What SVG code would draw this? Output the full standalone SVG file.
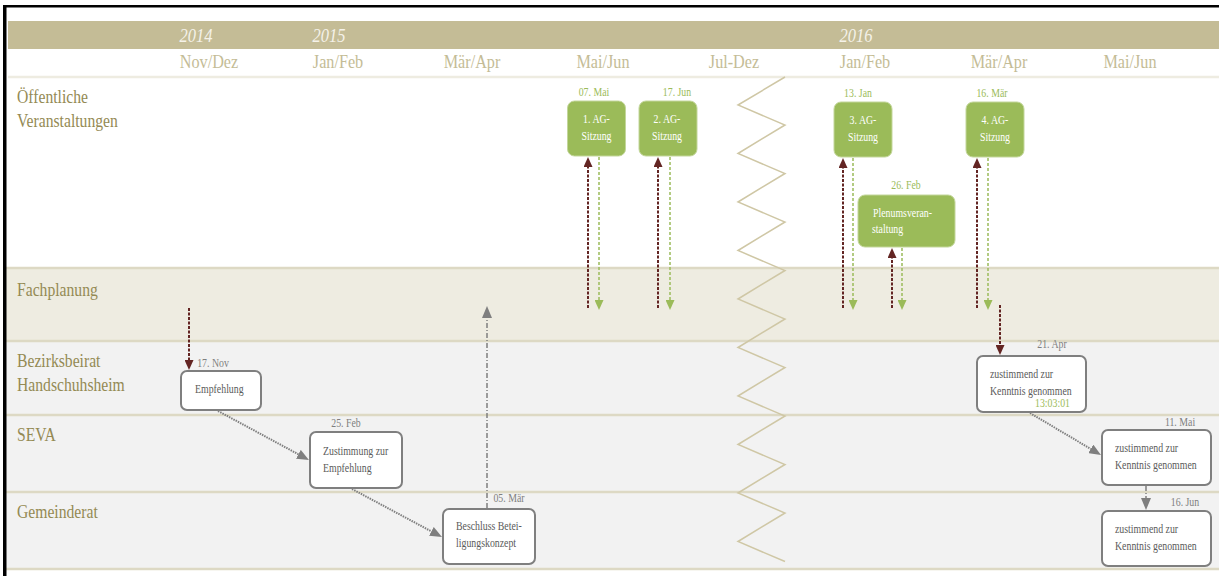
<svg xmlns="http://www.w3.org/2000/svg" width="1219" height="576" viewBox="0 0 1219 576">
<defs>
<style>
text{font-family:"Liberation Serif","Times New Roman",serif}
.yr{font-size:18px;font-style:italic;fill:#F5F2E9;text-anchor:middle}
.mo{font-size:18px;fill:#C4BC96;text-anchor:middle}
.ln{font-size:18px;fill:#948A54}
.dg{font-size:12px;fill:#9BBB59;text-anchor:middle}
.dk{font-size:12px;fill:#7F7F7F;text-anchor:middle}
.wt{font-size:12px;fill:#FFFFFF;text-anchor:middle}
.wl{font-size:12px;fill:#FFFFFF}
.gt{font-size:12px;fill:#5A5A5A}
.gr{font-size:12px;fill:#9BBB59;text-anchor:end}
.gbox{fill:#9BBB59;stroke:#C3D69B;stroke-width:1}
.wbox{fill:#FFFFFF;stroke:#7F7F7F;stroke-width:2}
.lane{stroke:#DDD9C4;stroke-width:2.5}
.red{stroke:#632523;stroke-width:2;stroke-dasharray:3 1.5;fill:none;marker-end:url(#aR)}
.grn{stroke:#9BBB59;stroke-width:1.5;stroke-dasharray:3 2;fill:none;marker-end:url(#aG)}
.gdot{stroke:#7F7F7F;stroke-width:2;stroke-dasharray:1.5 1;fill:none;marker-end:url(#aK)}
.gdash{stroke:#7F7F7F;stroke-width:1.5;stroke-dasharray:5 2 1 2;fill:none;marker-end:url(#aK)}
</style>
<marker id="aR" markerUnits="userSpaceOnUse" markerWidth="10" markerHeight="9" refX="0" refY="4.5" orient="auto"><path d="M0,0 L10,4.5 L0,9 z" fill="#632523"/></marker>
<marker id="aG" markerUnits="userSpaceOnUse" markerWidth="10" markerHeight="9" refX="0" refY="4.5" orient="auto"><path d="M0,0 L10,4.5 L0,9 z" fill="#9BBB59"/></marker>
<marker id="aK" markerUnits="userSpaceOnUse" markerWidth="12" markerHeight="10" refX="0" refY="5" orient="auto"><path d="M0,0 L12,5 L0,10 z" fill="#7F7F7F"/></marker>
</defs>

<rect x="0" y="0" width="1219" height="576" fill="#FFFFFF"/>

<g id="background">
<rect x="8" y="21" width="1211" height="28" fill="#C4BC96"/>
<line x1="8" y1="77" x2="1219" y2="77" stroke="#EEECE1" stroke-width="2.5"/>
<rect x="6" y="268" width="1213" height="73" fill="#EEECE1"/>
<rect x="6" y="341" width="1213" height="228" fill="#F2F2F2"/>
<line class="lane" x1="6" y1="268" x2="1219" y2="268"/>
<line class="lane" x1="6" y1="341" x2="1219" y2="341"/>
<line class="lane" x1="6" y1="415" x2="1219" y2="415"/>
<line class="lane" x1="6" y1="492" x2="1219" y2="492"/>
<line class="lane" x1="6" y1="569" x2="1219" y2="569"/>
<rect x="4" y="5" width="1215" height="2.5" fill="#000000"/>
<rect x="3" y="5" width="3.5" height="571" fill="#000000"/>
</g>

<g id="header">
<text class="yr" transform="translate(196 42) scale(.92 1)">2014</text>
<text class="yr" transform="translate(329 42) scale(.92 1)">2015</text>
<text class="yr" transform="translate(856 42) scale(.92 1)">2016</text>
<text class="mo" transform="translate(209 68) scale(.9 1)">Nov/Dez</text>
<text class="mo" transform="translate(338 68) scale(.9 1)">Jan/Feb</text>
<text class="mo" transform="translate(472 68) scale(.9 1)">Mär/Apr</text>
<text class="mo" transform="translate(603 68) scale(.9 1)">Mai/Jun</text>
<text class="mo" transform="translate(734 68) scale(.9 1)">Jul-Dez</text>
<text class="mo" transform="translate(865 68) scale(.9 1)">Jan/Feb</text>
<text class="mo" transform="translate(999 68) scale(.9 1)">Mär/Apr</text>
<text class="mo" transform="translate(1130 68) scale(.9 1)">Mai/Jun</text>
</g>

<g id="lane-labels">
<text class="ln" transform="translate(17 103) scale(.87 1)">Öffentliche</text>
<text class="ln" transform="translate(17 127) scale(.87 1)">Veranstaltungen</text>
<text class="ln" transform="translate(17 296) scale(.87 1)">Fachplanung</text>
<text class="ln" transform="translate(17 367) scale(.87 1)">Bezirksbeirat</text>
<text class="ln" transform="translate(17 391) scale(.87 1)">Handschuhsheim</text>
<text class="ln" transform="translate(17 441) scale(.87 1)">SEVA</text>
<text class="ln" transform="translate(17 518) scale(.87 1)">Gemeinderat</text>
</g>

<g id="zigzag">
<polyline fill="none" stroke="#CFC7A5" stroke-width="1.5" points="785,77 738,105 785,125 738,153.5 785,173.5 738,202 785,222 738,250.5 785,270.5 738,299 785,319 738,347.5 785,367.5 738,396 785,416 738,444.5 785,464.5 738,493 785,513 738,541.5 785,561.5"/>
</g>

<g id="connectors">
<line class="red" x1="588" y1="308" x2="588" y2="167"/>
<line class="grn" x1="599" y1="157" x2="599" y2="300"/>
<line class="red" x1="658" y1="308" x2="658" y2="167"/>
<line class="grn" x1="670" y1="157" x2="670" y2="300"/>
<line class="red" x1="843" y1="308" x2="843" y2="168"/>
<line class="grn" x1="853" y1="158" x2="853" y2="300"/>
<line class="red" x1="892" y1="308" x2="892" y2="258"/>
<line class="grn" x1="902" y1="248" x2="902" y2="300"/>
<line class="red" x1="977" y1="308" x2="977" y2="168"/>
<line class="grn" x1="988" y1="158" x2="988" y2="300"/>
<line class="red" x1="189" y1="308" x2="189" y2="360"/>
<line class="red" x1="1000" y1="305" x2="1000" y2="345"/>
<line class="gdot" x1="218" y1="411" x2="298.4" y2="454.3"/>
<line class="gdot" x1="352" y1="489" x2="431.4" y2="531.4"/>
<line class="gdot" x1="1030" y1="413" x2="1090.7" y2="448.9"/>
<line class="gdash" x1="487" y1="508" x2="487" y2="318"/>
<line class="gdash" x1="1146" y1="486" x2="1146" y2="498"/>
</g>

<g id="ag1">
<text class="dg" transform="translate(594 96) scale(.82 1)">07. Mai</text>
<rect class="gbox" x="567.5" y="101" width="58" height="55" rx="7"/>
<text class="wt" transform="translate(596.5 123) scale(.82 1)">1. AG-</text>
<text class="wt" transform="translate(596.5 140) scale(.82 1)">Sitzung</text>
</g>
<g id="ag2">
<text class="dg" transform="translate(677 96) scale(.82 1)">17. Jun</text>
<rect class="gbox" x="639" y="101" width="58" height="55" rx="7"/>
<text class="wt" transform="translate(667 123) scale(.82 1)">2. AG-</text>
<text class="wt" transform="translate(667 140) scale(.82 1)">Sitzung</text>
</g>
<g id="ag3">
<text class="dg" transform="translate(858 97) scale(.82 1)">13. Jan</text>
<rect class="gbox" x="834" y="102" width="58" height="55" rx="7"/>
<text class="wt" transform="translate(863 124) scale(.82 1)">3. AG-</text>
<text class="wt" transform="translate(863 141) scale(.82 1)">Sitzung</text>
</g>
<g id="ag4">
<text class="dg" transform="translate(992 97) scale(.82 1)">16. Mär</text>
<rect class="gbox" x="966" y="102" width="58" height="55" rx="7"/>
<text class="wt" transform="translate(995 124) scale(.82 1)">4. AG-</text>
<text class="wt" transform="translate(995 141) scale(.82 1)">Sitzung</text>
</g>
<g id="plenum">
<text class="dg" transform="translate(906 189) scale(.82 1)">26. Feb</text>
<rect class="gbox" x="858" y="195" width="97" height="52" rx="7"/>
<text class="wl" transform="translate(873 217) scale(.82 1)">Plenumsveran-</text>
<text class="wl" transform="translate(872 233) scale(.82 1)">staltung</text>
</g>

<g id="bb-empfehlung">
<text class="dk" transform="translate(213 367) scale(.82 1)">17. Nov</text>
<rect class="wbox" x="181" y="371" width="80" height="39" rx="6"/>
<text class="gt" transform="translate(195 393) scale(.82 1)">Empfehlung</text>
</g>
<g id="seva-zustimmung">
<text class="dk" transform="translate(346 427) scale(.82 1)">25. Feb</text>
<rect class="wbox" x="310" y="432" width="92" height="56" rx="6"/>
<text class="gt" transform="translate(323 455) scale(.82 1)">Zustimmung zur</text>
<text class="gt" transform="translate(323 472) scale(.82 1)">Empfehlung</text>
</g>
<g id="gr-beschluss">
<text class="dk" transform="translate(509 502) scale(.82 1)">05. Mär</text>
<rect class="wbox" x="443" y="509" width="92" height="55" rx="6"/>
<text class="gt" transform="translate(456 530) scale(.82 1)">Beschluss Betei-</text>
<text class="gt" transform="translate(456 547) scale(.82 1)">ligungskonzept</text>
</g>
<g id="bb-kenntnis">
<text class="dk" transform="translate(1052 348) scale(.82 1)">21. Apr</text>
<rect class="wbox" x="977" y="356" width="109" height="56" rx="6"/>
<text class="gt" transform="translate(990 378) scale(.82 1)">zustimmend zur</text>
<text class="gt" transform="translate(990 395) scale(.82 1)">Kenntnis genommen</text>
<text class="gr" transform="translate(1070 407) scale(.82 1)">13:03:01</text>
</g>
<g id="seva-kenntnis">
<text class="dk" transform="translate(1180 426) scale(.82 1)">11. Mai</text>
<rect class="wbox" x="1102" y="430" width="109" height="55" rx="6"/>
<text class="gt" transform="translate(1115 452) scale(.82 1)">zustimmend zur</text>
<text class="gt" transform="translate(1115 469) scale(.82 1)">Kenntnis genommen</text>
</g>
<g id="gr-kenntnis">
<text class="dk" transform="translate(1185 506) scale(.82 1)">16. Jun</text>
<rect class="wbox" x="1102" y="511" width="109" height="55" rx="6"/>
<text class="gt" transform="translate(1115 533) scale(.82 1)">zustimmend zur</text>
<text class="gt" transform="translate(1115 550) scale(.82 1)">Kenntnis genommen</text>
</g>
</svg>
